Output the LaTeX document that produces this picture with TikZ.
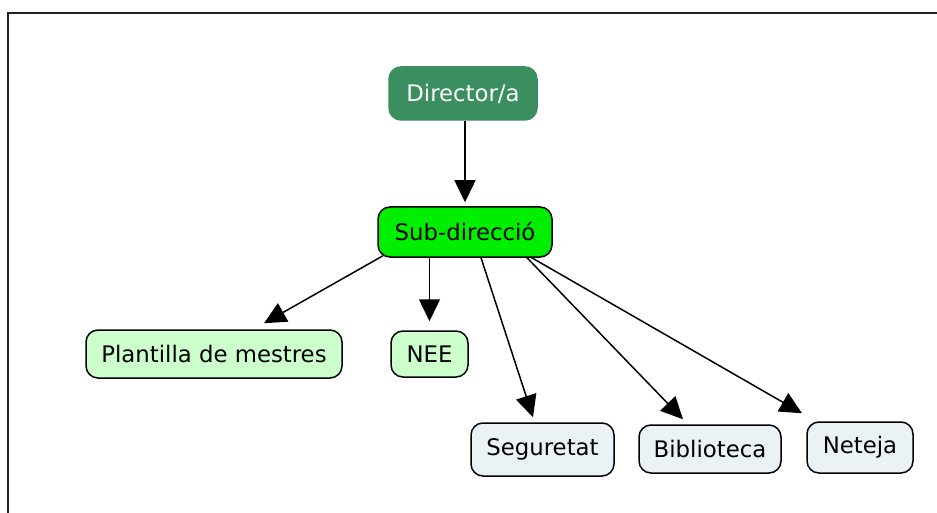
\documentclass[tikz,border=0pt]{standalone}
\usepackage{fontspec}
\setmainfont{DejaVu Sans}
\usetikzlibrary{arrows.meta}
\definecolor{dirgreen}{HTML}{3A8E60}
\definecolor{subgreen}{HTML}{00EE00}
\definecolor{lightgreen}{HTML}{CCFFCC}
\definecolor{lightgrey}{HTML}{EBF2F5}
\definecolor{framegrey}{HTML}{222222}
\tikzset{
  box/.style={rounded corners=12pt, inner sep=0pt, align=center,
    font=\fontsize{22.8}{27}\selectfont, line width=1.5pt},
  topbox/.style={box, fill=dirgreen, draw=dirgreen, text=white},
  subbox/.style={box, fill=subgreen, draw=black},
  greenbox/.style={box, fill=lightgreen, draw=black},
  greybox/.style={box, fill=lightgrey, draw=black},
  arr/.style={line width=1.5pt, -{Triangle[length=22pt,width=21pt]}},
}
\begin{document}
\begin{tikzpicture}[x=1pt,y=-1pt]
\useasboundingbox (0,0) rectangle (937,513);
\draw[framegrey, line width=2pt] (937,13.5) -| (7.5,513);

\node[topbox, minimum width=148pt, minimum height=53pt] (dir) at (463,93.5) {Director/a};
\node[subbox, minimum width=174pt, minimum height=50pt] (sub) at (465,232) {Sub-direcció};
\node[greenbox, minimum width=256pt, minimum height=48pt] (plant) at (214,354) {Plantilla de mestres};
\node[greenbox, minimum width=77pt, minimum height=46pt] (nee) at (429.5,354) {NEE};
\node[greybox, minimum width=143pt, minimum height=53pt] (seg) at (542.5,449.5) {Seguretat};
\node[greybox, minimum width=142pt, minimum height=48pt] (bib) at (710,449) {\raisebox{-2pt}{Biblioteca}};
\node[greybox, minimum width=106pt, minimum height=51pt] (net) at (860,447.5) {\raisebox{2pt}{Neteja}};

\draw[arr] (sub.north |- dir.south) -- ([yshift=4pt]sub.north);
\draw[arr] ([xshift=-82pt,yshift=2pt]sub.south) -- ([xshift=50pt,yshift=6pt]plant.north);
\draw[arr] ([xshift=-35.5pt]sub.south) -- ([yshift=9pt]nee.north);
\draw[arr] ([xshift=16pt]sub.south) -- ([xshift=-9.5pt,yshift=5pt]seg.north);
\draw[arr] ([xshift=62pt]sub.south) -- ([xshift=-27pt,yshift=5pt]bib.north);
\draw[arr] ([xshift=65pt,yshift=1pt]sub.south) -- ([xshift=-58pt,yshift=8pt]net.north);
\end{tikzpicture}
\end{document}
